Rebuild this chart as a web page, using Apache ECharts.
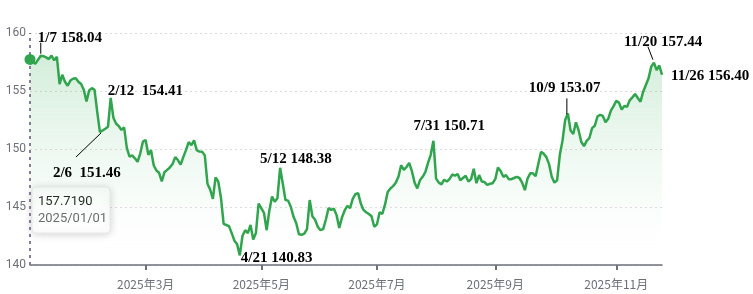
<!DOCTYPE html>
<html>
<head>
<meta charset="utf-8">
<script src="https://cdn.jsdelivr.net/npm/echarts@6/dist/echarts.min.js"></script>
<style>
html,body{margin:0;padding:0;background:#fff;}
#chart{width:753px;height:294px;}
</style>
</head>
<body>
<div id="chart"></div>
<script>
// ---- data ----
const startDate = '2025-01-01';
const endDate = '2025-11-26';
const values = [
  157.72, 157.5, 157.35, 157.7, 158.04, 158.0, 157.9, 157.75, 158.05, 157.65,
  157.95, 155.6, 156.4, 155.8, 155.45, 155.9, 156.05, 156.1, 155.8, 155.6,
  155.1, 154.1, 155.05, 155.25, 155.1, 153.2, 151.46, 151.6, 151.75, 151.92,
  154.41, 152.7, 152.2, 151.98, 151.64, 151.87, 150.1, 149.35, 149.45, 149.2,
  148.9, 149.63, 150.64, 150.78, 149.5, 149.9, 148.6, 148.15, 147.95, 147.2,
  148.0, 148.2, 148.4, 148.7, 149.3, 149.05, 148.65, 149.3, 149.9, 150.6,
  150.34, 150.75, 149.9, 149.78, 149.77, 149.45, 147.0, 146.5, 145.7, 147.55,
  147.2, 145.8, 143.55, 143.45, 143.35, 142.75, 142.1, 141.8, 140.83, 142.5,
  143.0, 142.75, 143.45, 142.2, 142.75, 145.3, 144.9, 144.5, 143.0, 144.7,
  145.9, 145.45, 145.75, 148.38, 147.0, 145.6, 145.55, 145.0, 144.15, 143.6,
  142.65, 142.6, 142.7, 143.1, 145.6, 144.2, 143.9, 143.3, 143.0, 143.1,
  143.9, 144.9, 144.75, 144.85, 144.3, 143.2, 144.1, 144.7, 145.1, 144.9,
  145.7, 146.1, 146.2, 145.3, 144.75, 144.55, 144.4, 144.2, 143.3, 143.5,
  144.55, 144.4, 145.2, 146.3, 146.6, 146.8, 147.1, 147.6, 148.6, 148.2,
  148.45, 148.8, 148.1, 147.1, 146.6, 147.3, 147.6, 148.0, 148.8, 149.5,
  150.71, 147.45, 147.1, 146.95, 147.35, 147.2, 147.4, 147.8, 147.7, 147.85,
  147.3, 147.5, 147.7, 147.2, 147.4, 148.3, 147.05, 147.75, 147.2, 147.15,
  146.9, 147.0, 147.05, 147.4, 148.4, 148.1, 147.6, 147.75, 147.4, 147.4,
  147.5, 147.6, 147.5, 147.1, 146.45, 147.45, 147.9, 147.9, 147.65, 148.7,
  149.75, 149.6, 149.3, 148.7, 147.6, 147.1, 147.3, 149.5, 150.7, 152.5,
  153.07, 151.6, 151.3, 152.3, 151.6, 150.6, 150.25, 150.7, 150.95, 151.8,
  152.0, 152.8, 152.95, 152.85, 152.3, 152.6, 153.3, 153.7, 154.15, 154.0,
  153.4, 153.7, 153.65, 154.2, 154.45, 154.75, 154.4, 154.08, 154.94, 155.52,
  156.1, 157.1, 157.44, 156.8, 157.2, 156.4
];
const yTicks = [140, 145, 150, 155, 160];
const labelMonths = [3, 5, 7, 9, 11];
const annoIdx = [4, 30, 26, 78, 93, 150, 200, 232, 235];
const annoText = ['1/7 158.04', '2/12  154.41', '2/6  151.46', '4/21 140.83', '5/12 148.38',
                  '7/31 150.71', '10/9 153.07', '11/20 157.44', '11/26 156.40'];
const tooltipValue = '157.7190';

// category dates (weekdays)
const dates = [];
(function () {
  const d = new Date(startDate + 'T00:00:00Z');
  const e = new Date(endDate + 'T00:00:00Z');
  while (d <= e) {
    const wd = d.getUTCDay();
    if (wd !== 0 && wd !== 6) {
      const m = d.getUTCMonth() + 1, day = d.getUTCDate();
      dates.push(d.getUTCFullYear() + '/' + String(m).padStart(2, '0') + '/' + String(day).padStart(2, '0'));
    }
    d.setUTCDate(d.getUTCDate() + 1);
  }
})();

// ---- styles ----
const annoOffset = [[-3, -18], [-3, -7], [-47, 41], [1, 3], [-20, -9], [-20, -15], [-39, -25], [-30, -21], [9, 1]];
const annoLines = {0: [0, -13, 0, -2], 2: [-24, 25, 1, 1], 6: [-1, -15, -1, 1], 7: [-6, -16, -1, -3]};
const GREEN = '#31a54e';

function isLabelIdx(i) {
  const m = parseInt(dates[i].slice(5, 7), 10);
  if (labelMonths.indexOf(m) < 0) return false;
  return i === 0 || dates[i - 1].slice(5, 7) !== dates[i].slice(5, 7);
}

const chart = echarts.init(document.getElementById('chart'));
chart.setOption({
  animation: false,
  grid: {left: 30, right: 91, top: 33, bottom: 29},
  xAxis: {
    type: 'category',
    data: dates,
    boundaryGap: false,
    axisLine: {lineStyle: {color: '#6E7079', width: 1.5}},
    axisTick: {show: true, interval: (i) => isLabelIdx(i), length: 5, lineStyle: {width: 2, color: '#6E7079'}},
    axisLabel: {
      interval: (i) => isLabelIdx(i),
      formatter: (v) => v.slice(0, 4) + '年' + parseInt(v.slice(5, 7), 10) + '月',
      color: '#6E7079', fontSize: 12, margin: 13,
      fontFamily: '"Noto Sans CJK SC", Roboto, sans-serif'
    },
    splitLine: {show: false}
  },
  yAxis: {
    type: 'value',
    min: yTicks[0], max: yTicks[yTicks.length - 1], interval: yTicks[1] - yTicks[0],
    axisLine: {show: false},
    axisTick: {show: false},
    axisLabel: {color: '#6E7079', fontSize: 12, margin: 4, fontFamily: 'Roboto, sans-serif'},
    splitLine: {lineStyle: {type: [2, 3], color: '#dcdcdc'}}
  },
  series: [{
    type: 'line',
    data: values,
    showSymbol: false,
    smooth: false,
    lineStyle: {color: GREEN, width: 2.5},
    itemStyle: {color: GREEN},
    areaStyle: {
      color: new echarts.graphic.LinearGradient(0, 0, 0, 1, [
        {offset: 0, color: 'rgba(60,175,90,0.32)'},
        {offset: 0.6, color: 'rgba(150,215,170,0.15)'},
        {offset: 1, color: 'rgba(255,255,255,0.0)'}
      ])
    },
    markLine: {
      silent: true,
      symbol: 'none',
      label: {show: false},
      lineStyle: {type: [3, 4], color: '#867a94', width: 2},
      data: [{xAxis: dates[0]}]
    },
    markPoint: {
      silent: true,
      symbol: 'circle',
      symbolSize: 11,
      itemStyle: {color: GREEN},
      label: {show: false},
      data: [{coord: [dates[0], values[0]]}]
    },
    z: 3
  }]
});

// annotations + tooltip box, placed through the chart's own scales
const graphics = [];
annoIdx.forEach((idx, k) => {
  const p = chart.convertToPixel({seriesIndex: 0}, [idx, values[idx]]);
  graphics.push({
    type: 'text', z: 10,
    style: {
      text: annoText[k], x: p[0] + annoOffset[k][0], y: p[1] + annoOffset[k][1],
      fill: '#000', font: 'bold 15px "Liberation Serif", "Times New Roman", serif',
      align: 'left', verticalAlign: 'middle'
    }
  });
  if (annoLines[k]) {
    const l = annoLines[k];
    graphics.push({
      type: 'line', z: 10,
      shape: {x1: p[0] + l[0], y1: p[1] + l[1], x2: p[0] + l[2], y2: p[1] + l[3]},
      style: {stroke: '#000', lineWidth: 1}
    });
  }
});
graphics.push({
  type: 'group', z: 20,
  children: [
    {type: 'rect', shape: {x: 32, y: 187, width: 78, height: 46, r: 4},
     style: {fill: '#fff', stroke: '#e8e8e8', lineWidth: 1, shadowBlur: 8, shadowColor: 'rgba(0,0,0,0.18)', shadowOffsetY: 1}},
    {type: 'text', style: {text: tooltipValue, x: 38, y: 202, fill: '#1a1a1a', font: '13px Roboto, sans-serif', verticalAlign: 'middle'}},
    {type: 'text', style: {text: dates[0], x: 38, y: 219, fill: '#666', font: '13px Roboto, sans-serif', verticalAlign: 'middle'}}
  ]
});
chart.setOption({graphic: graphics});
</script>
</body>
</html>
